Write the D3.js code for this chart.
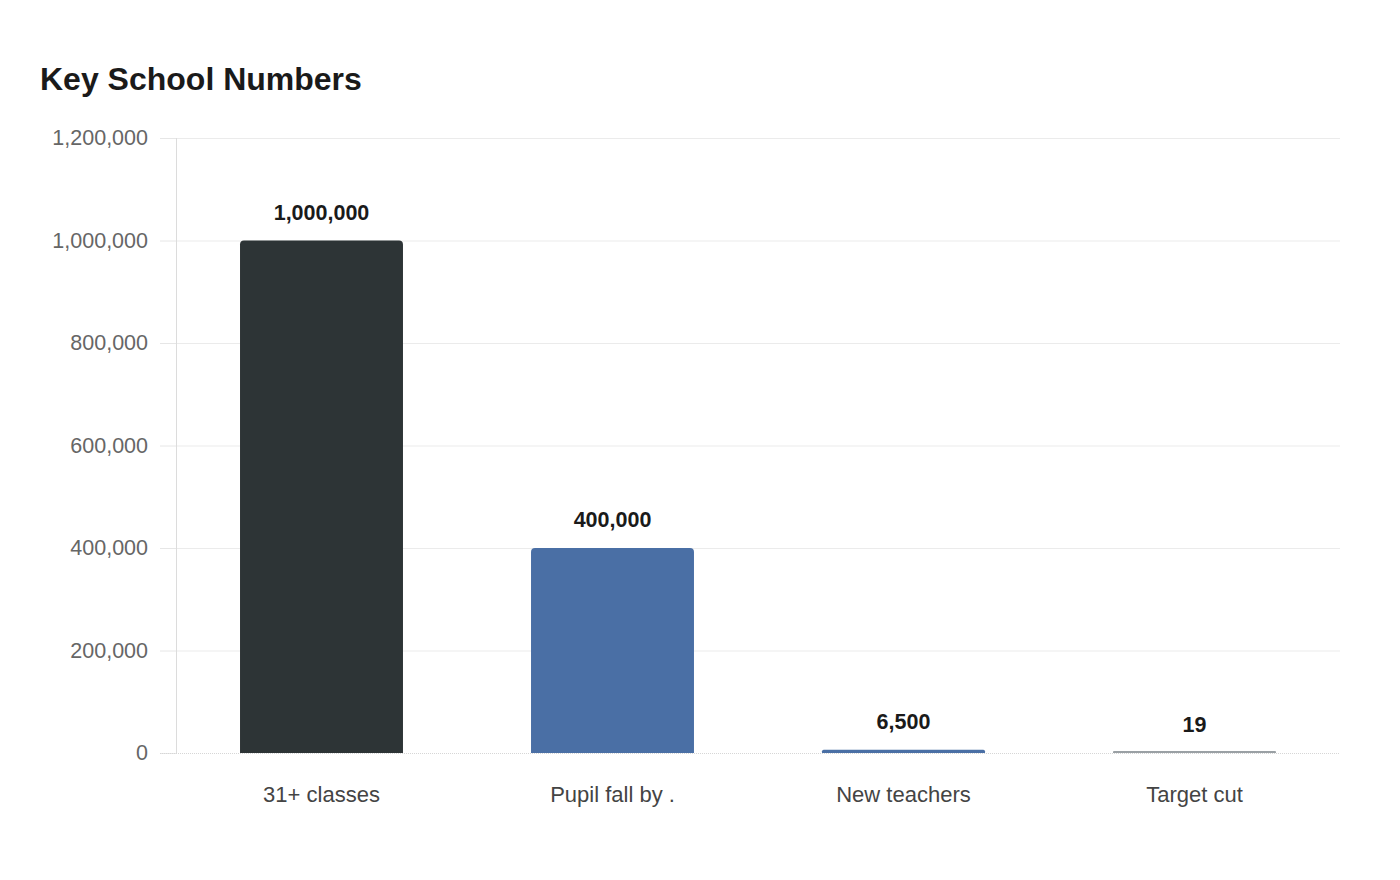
<!DOCTYPE html>
<html>
<head>
<meta charset="utf-8">
<script src="https://cdn.jsdelivr.net/npm/d3@7/dist/d3.min.js"></script>
<style>
  html, body { margin: 0; padding: 0; background: #fff; }
  svg { display: block; font-family: "Liberation Sans", Arial, sans-serif; }
</style>
</head>
<body>
<svg id="chart" width="1400" height="880"></svg>
<script>
// chart data
const categories = ['31+ classes', 'Pupil fall by .', 'New teachers', 'Target cut'];
const values = [1000000, 400000, 6500, 19];
const barColors = ['#2d3436', '#4a6fa5', '#4a6fa5', '#9aa0a4'];
const yTicks = [0, 200000, 400000, 600000, 800000, 1000000, 1200000];

const width = 1400;
const height = 880;
const margin = { top: 138, right: 60, bottom: 127, left: 176 };

const svg = d3.select('#chart');

svg.append('text')
  .attr('x', 40)
  .attr('y', 90)
  .attr('font-size', 32)
  .attr('font-weight', 'bold')
  .attr('fill', '#1a1a1a')
  .text('Key School Numbers');

const x = d3.scaleBand()
  .domain(categories)
  .range([margin.left, width - margin.right])
  .paddingInner(0.44)
  .paddingOuter(0.22);

const y = d3.scaleLinear()
  .domain([0, 1200000])
  .range([height - margin.bottom, margin.top]);

// tick marks + y axis labels
const yAxis = svg.append('g')
  .attr('transform', `translate(${margin.left},0)`)
  .call(d3.axisLeft(y)
    .tickValues(yTicks)
    .tickFormat(d3.format(','))
    .tickSize(16)
    .tickPadding(12));
yAxis.select('.domain').remove();
yAxis.selectAll('.tick line').attr('stroke', '#e6e6e6');
yAxis.selectAll('.tick text')
  .attr('font-size', 21.5)
  .attr('fill', '#666')
  .attr('font-family', '"Liberation Sans", Arial, sans-serif');

// gridlines
svg.append('g')
  .selectAll('line')
  .data(yTicks.filter(d => d > 0))
  .join('line')
  .attr('x1', margin.left)
  .attr('x2', width - margin.right)
  .attr('y1', d => y(d) + 0.5)
  .attr('y2', d => y(d) + 0.5)
  .attr('stroke', '#ebebeb')
  .attr('stroke-width', 1);

// y axis line
svg.append('line')
  .attr('x1', margin.left + 0.5)
  .attr('x2', margin.left + 0.5)
  .attr('y1', margin.top)
  .attr('y2', y(0))
  .attr('stroke', '#dcdcdc');

// bars with rounded top corners (kept at least 2px tall so tiny values show)
const r = 4;
const minH = 2;
function barPath (d, i) {
  const x0 = x(categories[i]);
  const w = x.bandwidth();
  const y0 = y(0);
  const y1 = Math.min(y(d), y0 - minH);
  const rr = Math.min(r, (y0 - y1) / 2);
  return `M${x0},${y0}V${y1 + rr}Q${x0},${y1} ${x0 + rr},${y1}` +
    `H${x0 + w - rr}Q${x0 + w},${y1} ${x0 + w},${y1 + rr}V${y0}Z`;
}

svg.append('g')
  .selectAll('path')
  .data(values)
  .join('path')
  .attr('d', barPath)
  .attr('fill', (d, i) => barColors[i]);

// baseline
svg.append('line')
  .attr('x1', margin.left - 16)
  .attr('x2', width - margin.right)
  .attr('y1', y(0) + 0.5)
  .attr('y2', y(0) + 0.5)
  .attr('stroke', '#d6d6d6')
  .attr('stroke-dasharray', '1,1');

// value labels
svg.append('g')
  .selectAll('text')
  .data(values)
  .join('text')
  .attr('x', (d, i) => x(categories[i]) + x.bandwidth() / 2)
  .attr('y', d => y(d) - 21)
  .attr('text-anchor', 'middle')
  .attr('font-size', 21.5)
  .attr('font-weight', 'bold')
  .attr('fill', '#1a1a1a')
  .text(d => d3.format(',')(d));

// category labels
svg.append('g')
  .selectAll('text')
  .data(categories)
  .join('text')
  .attr('x', d => x(d) + x.bandwidth() / 2)
  .attr('y', y(0) + 49)
  .attr('text-anchor', 'middle')
  .attr('font-size', 22)
  .attr('fill', '#444')
  .text(d => d);
</script>
</body>
</html>
